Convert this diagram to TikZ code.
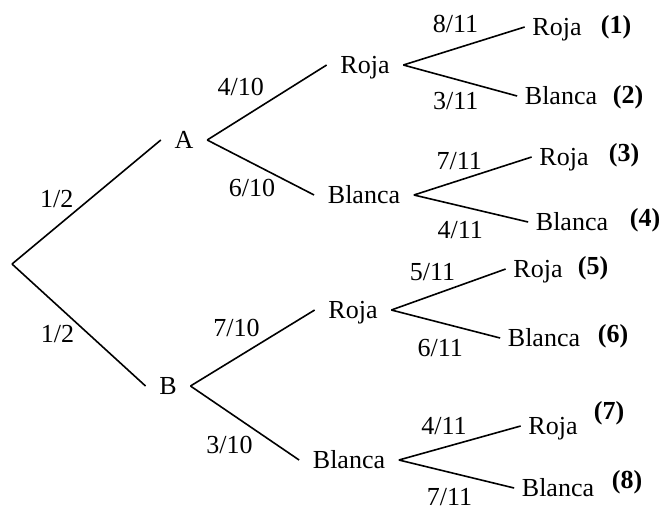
\documentclass[tikz,border=0pt]{standalone}
\usepackage{fontspec}
\setmainfont{Liberation Serif}
\usetikzlibrary{positioning}
\tikzset{
every node/.style={font=\fontsize{13pt}{15pt}\selectfont}, % Times-like text everywhere
branch/.style={inner xsep=6.5pt, inner ysep=1pt, text height=8.5pt, text depth=0.5pt}, % middle outcomes
leaf/.style={inner xsep=3.5pt, inner ysep=1pt, text height=8.5pt, text depth=0.5pt}, % final outcomes
prob/.style={inner sep=1pt}, % probability written on a branch
tag/.style={inner sep=1pt, font=\fontsize{13pt}{15pt}\selectfont\bfseries}, % number of the case
}

\begin{document}
\begin{tikzpicture}[x=0.5pt,y=-0.5pt,line width=0.8pt]
   \useasboundingbox (0,0) rectangle (662,509);
   \coordinate (root) at (12,264);
   \node[branch] (A)  at (184,140) {A};
   \node[branch] (B)  at (168,386) {B};
   \node[branch] (AR) at (365,65)  {Roja};
   \node[branch] (AB) at (364,195) {Blanca};
   \node[branch] (BR) at (353,310) {Roja};
   \node[branch] (BB) at (349,460) {Blanca};
   \node[leaf] (ARR) at (557,27)  {Roja};
   \node[leaf] (ARB) at (561,96)  {Blanca};
   \node[leaf] (ABR) at (564,157) {Roja};
   \node[leaf] (ABB) at (572,222) {Blanca};
   \node[leaf] (BRR) at (538,269) {Roja};
   \node[leaf] (BRB) at (544,338) {Blanca};
   \node[leaf] (BBR) at (553,426) {Roja};
   \node[leaf] (BBB) at (558,488) {Blanca};
   \node[tag] (t_1) at (616,27)  {(1)};
   \node[tag] (t_2) at (628,97)  {(2)};
   \node[tag] (t_3) at (624,155) {(3)};
   \node[tag] (t_4) at (645,220) {(4)};
   \node[tag] (t_5) at (593,268) {(5)};
   \node[tag] (t_6) at (613,336) {(6)};
   \node[tag] (t_7) at (609,413) {(7)};
   \node[tag] (t_8) at (627,482) {(8)};
    \path
    (root) edge node[prob,pos=0.30,above=8pt] {1/2} (A.west)
    (root) edge node[prob,pos=0.34,below=8.5pt] {1/2} (B.west)
    (A.east) edge node[prob,pos=0.28,above=10pt] {4/10} (AR.west)
    (A.east) edge node[prob,pos=0.42,below=6.5pt] {6/10} (AB.west)
    (B.east) edge node[prob,pos=0.37,above=9pt] {7/10} (BR.west)
    (B.east) edge node[prob,pos=0.36,below=10.5pt] {3/10} (BB.west)
    (AR.east) edge node[prob,pos=0.43,above=6.5pt] {8/11} (ARR.west)
    (AR.east) edge node[prob,pos=0.46,below=5pt] {3/11} (ARB.west)
    (AB.east) edge node[prob,pos=0.385,above=3.7pt] {7/11} (ABR.west)
    (AB.east) edge node[prob,pos=0.405,below=6.5pt] {4/11} (ABB.west)
    (BR.east) edge node[prob,pos=0.36,above=5.7pt] {5/11} (BRR.west)
    (BR.east) edge node[prob,pos=0.45,below=6.7pt] {6/11} (BRB.west)
    (BB.east) edge node[prob,pos=0.37,above=4.7pt] {4/11} (BBR.west)
    (BB.east) edge node[prob,pos=0.44,below=6.6pt] {7/11} (BBB.west);
\end{tikzpicture}
\end{document}
